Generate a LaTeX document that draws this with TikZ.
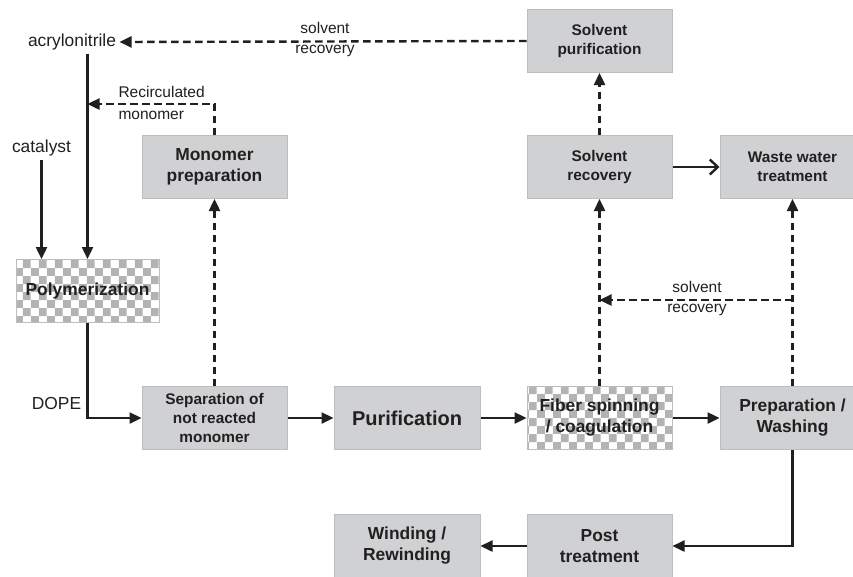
\documentclass[tikz,border=0pt]{standalone}
\usepackage{fontspec}
\setmainfont{Liberation Sans}
\usetikzlibrary{arrows.meta, positioning, patterns}

\definecolor{boxgray}{RGB}{208,209,211}
\definecolor{edgegray}{RGB}{188,189,191}
\definecolor{checkgray}{RGB}{178,179,181}
\definecolor{ink}{RGB}{35,31,32}

\pgfdeclarepatternformonly{chequer}{\pgfpointorigin}{\pgfpoint{15.8pt}{15.8pt}}{\pgfpoint{15.8pt}{15.8pt}}{
	\pgfpathrectangle{\pgfpointorigin}{\pgfpoint{7.9pt}{7.9pt}}
	\pgfpathrectangle{\pgfpoint{7.9pt}{7.9pt}}{\pgfpoint{7.9pt}{7.9pt}}
	\pgfusepath{fill}
}

\tikzset{
	stage/.style={draw=edgegray, line width=1pt, fill=boxgray, text=ink, align=center,
		minimum width=145pt, minimum height=63pt, inner sep=2pt,
		font=\bfseries\fontsize{17.4}{21}\selectfont},
	small stage/.style={stage, font=\bfseries\fontsize{15.4}{19}\selectfont},
	checker/.style={stage, fill=none, pattern=chequer, pattern color=checkgray},
	feed/.style={text=ink, font=\fontsize{17.4}{21}\selectfont},
	note/.style={text=ink, font=\fontsize{15.5}{18}\selectfont},
	flow/.style={draw=ink, line width=2.4pt, -{Triangle[length=12pt,width=11pt]}},
	recycle/.style={flow, dash pattern=on 7.5pt off 4.5pt},
}

\begin{document}
\begin{tikzpicture}[x=1pt, y=-1pt]
		\clip (0,0) rectangle (853,576);
		\fill[white] (0,0) rectangle (853,576);
		
		% inputs
		\node[feed] (acr) at (72,42) {acrylonitrile};
		\node[feed] (cat) at (41.5,148) {catalyst};
		
		% process stages
		\node[small stage] (spur) at (599.5,41) {Solvent\\purification};
		\node[small stage] (srec) at (599.5,167) {Solvent\\recovery};
		\node[small stage] (waste) at (792.5,167) {Waste water\\treatment};
		\node[stage] (mono) at (214.5,167) {Monomer\\preparation};
		\node[checker, minimum width=143pt] (polym) at (87.5,291) {Polymerization};
		\node[small stage] (sep) at (214.5,418) {Separation of\\not reacted\\monomer};
		\node[stage, minimum width=146pt, font=\bfseries\fontsize{20}{24}\selectfont] (puri) at (407,418) {Purification};
		\node[checker] (fiber) at (599.5,418) {Fiber spinning\\/ coagulation};
		\node[stage] (wash) at (792.5,418) {Preparation /\\Washing};
		\node[stage] (post) at (599.5,546) {Post\\treatment};
		\node[stage, minimum width=146pt] (wind) at (407,546) {Winding /\\Rewinding};
		
		% feed lines
		\draw[flow] (acr.south -| polym.north) -- (polym.north);
		\draw[flow] (cat.south) -- (cat.south |- polym.north);
		\draw[flow] (polym.south) |- (sep.west);
		\node[feed] (dope) at (56.5,404) {DOPE};
		
		% main line
		\draw[flow] (sep) -- (puri);
		\draw[flow] (puri) -- (fiber);
		\draw[flow] (fiber) -- (wash);
		\draw[flow] (wash.south) |- (post.east);
		\draw[flow] (post) -- (wind);
		\draw[draw=ink, line width=2.4pt, -{Straight Barb[length=8pt,width=15pt,line width=2.4pt]}] (srec) -- (waste);
		
		% recovery loops
		\draw[recycle] (sep.north) -- (mono.south);
		\coordinate (rcirc) at (acr.south -| polym.north);
		\coordinate (rcirc) at (rcirc |- 0,104);
		\draw[recycle] (mono.north) |- (rcirc);
		\node[note, anchor=west] (rtop) at (115,92) {Recirculated};
		\node[note, anchor=west] (rbot) at (115,115) {monomer};
		
		\draw[recycle] (fiber.north) -- (srec.south);
		\draw[recycle] (wash.north) -- (waste.south);
		\coordinate (wjoin) at (wash.north |- 0,300);
		\coordinate (fjoin) at (fiber.north |- 0,300);
		\draw[recycle] (wjoin) -- (fjoin);
		\node[note] (sol2) at (697,287) {solvent};
		\node[note] (rec2) at (697,310) {recovery};
		
		\draw[recycle] (srec.north) -- (spur.south);
		\draw[recycle] (spur.west) -- (acr.east);
		\node[note] (sol1) at (325,28) {solvent};
		\node[note] (rec1) at (325,51) {recovery};
	\end{tikzpicture}
\end{document}
